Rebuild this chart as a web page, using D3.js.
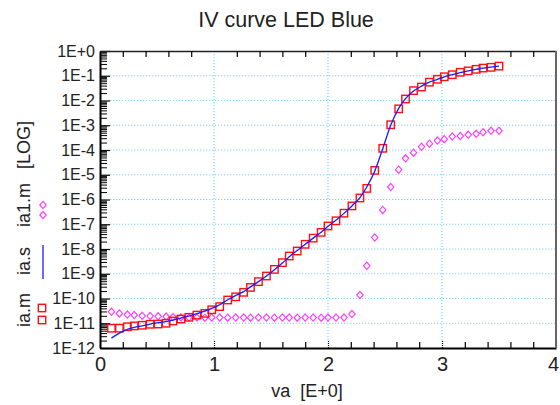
<!DOCTYPE html>
<html>
<head>
<meta charset="utf-8">
<script src="https://cdn.jsdelivr.net/npm/d3@7"></script>
<style>
  body { margin: 0; background: #fff; }
  svg { font-family: "Liberation Sans", Arial, sans-serif; }
</style>
</head>
<body>
<svg id="chart" width="560" height="405"></svg>
<script>
// voltage steps (V)
var va = [0.10, 0.17, 0.24, 0.30, 0.37, 0.44, 0.51, 0.58, 0.64, 0.71,
          0.78, 0.85, 0.92, 0.98, 1.05, 1.12, 1.19, 1.26, 1.32, 1.39,
          1.46, 1.53, 1.60, 1.66, 1.73, 1.80, 1.87, 1.94, 2.00, 2.07,
          2.14, 2.21, 2.28, 2.34, 2.41, 2.48, 2.55, 2.62, 2.68, 2.75,
          2.82, 2.89, 2.96, 3.02, 3.09, 3.16, 3.23, 3.30, 3.36, 3.43, 3.50];

// measured current ia.m (red squares)
var iaM = [6.3e-12, 6.3e-12, 7.2e-12, 7.8e-12, 8.3e-12, 9.1e-12, 9.3e-12, 1.0e-11, 1.23e-11, 1.48e-11,
           1.74e-11, 2.14e-11, 2.5e-11, 3.5e-11, 4.7e-11, 8.7e-11, 1.17e-10, 1.78e-10, 2.8e-10, 4.8e-10,
           8.1e-10, 1.5e-9, 2.8e-9, 5.2e-9, 8.3e-9, 1.55e-8, 2.75e-8, 4.7e-8, 8.5e-8, 1.38e-7,
           2.8e-7, 5.5e-7, 1.15e-6, 2.8e-6, 1.5e-5, 1.17e-4, 1.05e-3, 4.6e-3, 1.15e-2, 2.5e-2,
           3.5e-2, 5.5e-2, 7.2e-2, 9.1e-2, 0.11, 0.138, 0.158, 0.182, 0.204, 0.219, 0.245];

// simulated current ia.s (blue line)
var iaS = [2.5e-12, 4.0e-12, 5.6e-12, 6.8e-12, 7.9e-12, 9.3e-12, 1.05e-11, 1.17e-11, 1.35e-11, 1.62e-11,
           1.95e-11, 2.45e-11, 3.1e-11, 4.0e-11, 5.6e-11, 8.9e-11, 1.32e-10, 1.9e-10, 2.95e-10, 4.8e-10,
           8.1e-10, 1.45e-9, 2.7e-9, 4.9e-9, 8.7e-9, 1.55e-8, 2.75e-8, 4.8e-8, 8.3e-8, 1.45e-7,
           2.75e-7, 5.5e-7, 1.2e-6, 3.2e-6, 1.4e-5, 1.12e-4, 1.0e-3, 4.8e-3, 1.2e-2, 2.4e-2,
           3.8e-2, 5.5e-2, 7.2e-2, 9.1e-2, 0.112, 0.135, 0.158, 0.182, 0.204, 0.224, 0.245];

// second measurement ia1.m (magenta diamonds)
var ia1M = [2.9e-11, 2.5e-11, 2.25e-11, 2.15e-11, 2.0e-11, 1.95e-11, 1.9e-11, 1.86e-11, 1.78e-11, 1.72e-11,
            1.7e-11, 1.7e-11, 1.68e-11, 1.7e-11, 1.7e-11, 1.68e-11, 1.7e-11, 1.7e-11, 1.68e-11, 1.7e-11,
            1.7e-11, 1.68e-11, 1.7e-11, 1.7e-11, 1.68e-11, 1.7e-11, 1.7e-11, 1.68e-11, 1.7e-11, 1.7e-11,
            1.7e-11, 2.35e-11, 1.38e-10, 2.1e-9, 2.9e-8, 3.8e-7, 3.2e-6, 1.6e-5, 4.6e-5, 7.8e-5,
            1.35e-4, 1.8e-4, 2.4e-4, 2.75e-4, 3.5e-4, 3.7e-4, 4.1e-4, 4.5e-4, 5.2e-4, 6.0e-4, 6.0e-4];

var xTicks = [0, 1, 2, 3, 4];
var xMinor = [0.2, 0.4, 0.6, 0.8, 1.2, 1.4, 1.6, 1.8, 2.2, 2.4, 2.6, 2.8, 3.2, 3.4, 3.6, 3.8];
var yTicks = [1, 1e-1, 1e-2, 1e-3, 1e-4, 1e-5, 1e-6, 1e-7, 1e-8, 1e-9, 1e-10, 1e-11, 1e-12];

var pLeft = 100, pRight = 556, pTop = 51, pBottom = 348;

var svg = d3.select('#chart')
var x = d3.scaleLinear().domain([0, 4]).range([pLeft, pRight])
var y = d3.scaleLog().domain([1e-12, 1]).range([pBottom, pTop])

var yMinor = []
yTicks.slice(1).forEach(function(d) {
  for (var k = 2; k <= 9; k++) yMinor.push(d * k)
})

var gridColor = '#8ccff5'

// grid
svg.append('g').selectAll('line')
   .data(yTicks.filter(function(d) { return d < 1 && d > 1e-12 }))
   .enter().append('line')
   .attr('x1', pLeft + 10).attr('x2', pRight)
   .attr('y1', function(d) { return y(d) }).attr('y2', function(d) { return y(d) })
   .attr('stroke', gridColor).attr('stroke-width', 1.2).attr('stroke-dasharray', '1.3,1.7')
svg.append('g').selectAll('line')
   .data([1, 2, 3])
   .enter().append('line')
   .attr('x1', function(d) { return x(d) }).attr('x2', function(d) { return x(d) })
   .attr('y1', pTop).attr('y2', pBottom - 8)
   .attr('stroke', gridColor).attr('stroke-width', 1.2).attr('stroke-dasharray', '1.3,1.7')

// left axis
var gl = svg.append('g').attr('transform', 'translate(' + pLeft + ',0)')
   .call(d3.axisLeft(y).tickValues(yTicks).tickSizeInner(-10).tickSizeOuter(0).tickPadding(5)
         .tickFormat(function(d) { var e = Math.round(Math.log10(d)); return e === 0 ? '1E+0' : '1E' + e }))
gl.select('.domain').attr('stroke', '#000').attr('stroke-width', 2)
gl.selectAll('.tick line').attr('stroke', '#000').attr('stroke-width', 1.2)
gl.selectAll('.tick text').attr('font-size', 16).attr('fill', '#222').attr('font-family', '"Liberation Sans", Arial, sans-serif')
var glm = svg.append('g').attr('transform', 'translate(' + pLeft + ',0)')
   .call(d3.axisLeft(y).tickValues(yMinor).tickSizeInner(-7).tickSizeOuter(0).tickFormat(''))
glm.select('.domain').remove()
glm.selectAll('.tick line').attr('stroke', '#000').attr('stroke-width', 1)

// bottom axis
var gb = svg.append('g').attr('transform', 'translate(0,' + pBottom + ')')
   .call(d3.axisBottom(x).tickValues(xTicks).tickSizeInner(-8).tickSizeOuter(0).tickPadding(9)
         .tickFormat(d3.format('d')))
gb.select('.domain').attr('stroke', '#000').attr('stroke-width', 2)
gb.selectAll('.tick line').attr('stroke', '#000').attr('stroke-width', 1.2).attr('stroke-dasharray', '1,1')
gb.selectAll('.tick text').attr('font-size', 20).attr('fill', '#222').attr('font-family', '"Liberation Sans", Arial, sans-serif')
gb.selectAll('.tick text').filter(function(d) { return d === 4 }).attr('dx', -3)
var gbm = svg.append('g').attr('transform', 'translate(0,' + pBottom + ')')
   .call(d3.axisBottom(x).tickValues(xMinor).tickSizeInner(-6).tickSizeOuter(0).tickFormat(''))
gbm.select('.domain').remove()
gbm.selectAll('.tick line').attr('stroke', '#000').attr('stroke-width', 1.2)

// top axis
var gt = svg.append('g').attr('transform', 'translate(0,' + pTop + ')')
   .call(d3.axisTop(x).tickValues(xMinor).tickSizeInner(-6).tickSizeOuter(0).tickFormat(''))
gt.select('.domain').attr('stroke', '#222').attr('stroke-width', 1.6)
gt.selectAll('.tick line').attr('stroke', '#000').attr('stroke-width', 1.2)

// right border
svg.append('line')
   .attr('x1', pRight).attr('x2', pRight).attr('y1', pTop).attr('y2', pBottom)
   .attr('stroke', '#666').attr('stroke-width', 2)

// series
var plot = svg.append('g')

plot.selectAll('.dia')
   .data(va.map(function(v, i) { return [v, ia1M[i]] }))
   .enter().append('path')
   .attr('class', 'dia')
   .attr('d', function(d) {
      var cx = x(d[0]), cy = y(d[1])
      return 'M' + cx + ',' + (cy - 3.6) + 'L' + (cx + 3.2) + ',' + cy + 'L' + cx + ',' + (cy + 3.6) + 'L' + (cx - 3.2) + ',' + cy + 'Z'
   })
   .attr('fill', 'none').attr('stroke', '#ff40ff').attr('stroke-width', 1.2)

plot.selectAll('.sq')
   .data(va.map(function(v, i) { return [v, iaM[i]] }))
   .enter().append('rect')
   .attr('class', 'sq')
   .attr('x', function(d) { return x(d[0]) - 3.7 })
   .attr('y', function(d) { return y(d[1]) - 3.7 })
   .attr('width', 7.4).attr('height', 7.4)
   .attr('fill', 'none').attr('stroke', '#ff1010').attr('stroke-width', 1.4)

plot.append('path')
   .datum(va.map(function(v, i) { return [v, iaS[i]] }))
   .attr('d', d3.line().x(function(d) { return x(d[0]) }).y(function(d) { return y(d[1]) }).curve(d3.curveMonotoneX))
   .attr('fill', 'none').attr('stroke', '#1a1aff').attr('stroke-width', 1.3)

// title
svg.append('text')
   .attr('x', 286).attr('y', 27).attr('text-anchor', 'middle')
   .attr('font-size', 21.5).attr('fill', '#222')
   .text('IV curve LED Blue')

// x label
svg.append('text')
   .attr('x', 307).attr('y', 397).attr('text-anchor', 'middle')
   .attr('font-size', 18).attr('fill', '#222')
   .attr('xml:space', 'preserve')
   .text('va  [E+0]')

// y label with legend markers
var ylab = [['[LOG]', 145], ['ia1.m', 205], ['ia.s', 261], ['ia.m', 310]]
ylab.forEach(function(l) {
  svg.append('text')
     .attr('transform', 'translate(30,' + l[1] + ') rotate(-90)')
     .attr('text-anchor', 'middle').attr('font-size', 18).attr('fill', '#222')
     .text(l[0])
})
;[205, 215].forEach(function(cy) {
  svg.append('path')
     .attr('d', 'M43,' + (cy - 3.6) + 'L46.2,' + cy + 'L43,' + (cy + 3.6) + 'L39.8,' + cy + 'Z')
     .attr('fill', 'none').attr('stroke', '#ff40ff').attr('stroke-width', 1.2)
})
svg.append('line').attr('x1', 43).attr('x2', 43).attr('y1', 245).attr('y2', 279)
   .attr('stroke', '#1a1aff').attr('stroke-width', 1.3)
;[308, 320].forEach(function(cy) {
  svg.append('rect').attr('x', 42 - 3.7).attr('y', cy - 3.7).attr('width', 7.4).attr('height', 7.4)
     .attr('fill', 'none').attr('stroke', '#ff1010').attr('stroke-width', 1.4)
})
</script>
</body>
</html>
